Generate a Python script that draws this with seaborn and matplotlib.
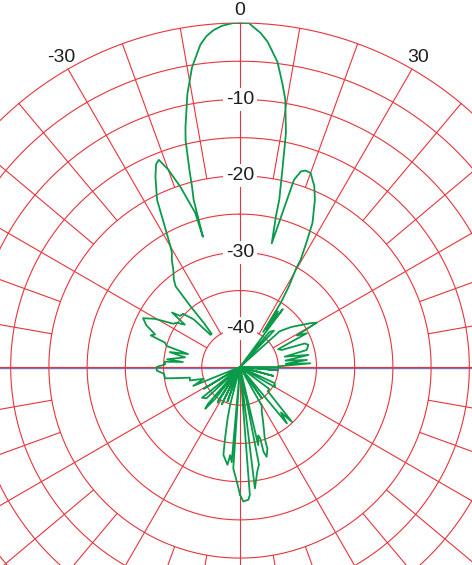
import numpy as np
import matplotlib
matplotlib.use("Agg")
import matplotlib.pyplot as plt
import matplotlib.transforms as mtransforms
import seaborn as sns

# measured pattern, angle in degrees (clockwise from boresight) and level in dB
pattern_deg = [
    -180.0, -178.4, -176.2, -175.6, -175.0, -173.6, -172.7, -169.3, -168.2, -166.5,
    -165.3, -163.5, -160.0, -157.5, -154.0, -151.5, -148.0, -146.9, -145.0, -142.0,
    -140.2, -139.0, -136.0, -133.0, -129.0, -126.0, -121.0, -116.0, -112.0, -108.0,
    -105.0, -102.0, -100.0, -98.6, -95.0, -92.5, -90.0, -88.0, -86.0, -85.0,
    -84.0, -80.0, -78.0, -76.0, -74.0, -72.0, -70.5, -69.0, -66.0, -63.3,
    -60.5, -57.0, -55.0, -52.5, -51.3, -49.5, -47.0, -44.2, -42.5, -40.6,
    -39.4, -39.2, -38.8, -38.6, -37.0, -34.5, -32.5, -30.8, -30.0, -27.9,
    -26.4, -24.0, -22.5, -21.4, -20.0, -18.3, -16.2, -15.9, -15.5, -14.9,
    -14.4, -13.5, -12.8, -10.9, -9.1, -7.0, -5.8, -4.5, -3.0, -1.2,
    0.0, 1.5, 2.1, 3.5, 4.85, 7.0, 8.5, 9.6, 11.1, 12.0,
    13.2, 13.4, 14.4, 15.6, 16.1, 17.3, 18.5, 20.0, 22.3, 24.1,
    26.7, 27.9, 29.5, 29.7, 31.2, 32.4, 33.4, 34.2, 35.0, 36.5,
    38.0, 40.0, 43.0, 46.0, 48.0, 52.0, 55.8, 58.0, 60.0, 61.0,
    63.2, 65.0, 67.8, 70.0, 72.0, 75.7, 77.0, 80.0, 82.0, 84.0,
    86.0, 87.0, 89.0, 90.0, 92.0, 95.0, 100.0, 105.0, 110.0, 115.0,
    120.0, 123.0, 127.0, 131.0, 134.8, 136.6, 138.0, 140.3, 142.0, 145.0,
    148.0, 150.7, 154.0, 157.2, 160.9, 161.5, 163.5, 164.5, 164.2, 165.1,
    166.9, 168.0, 169.0, 170.7, 173.0, 174.6, 175.6, 176.4, 178.6, 180.0,
]
pattern_db = [
    -28.3, -30.0, -31.7, -45.0, -32.5, -33.4, -32.1, -33.3, -35.4, -38.0,
    -39.9, -45.0, -40.2, -45.0, -39.6, -45.0, -39.5, -39.8, -45.0, -39.7,
    -37.9, -38.6, -45.0, -39.0, -38.6, -45.0, -39.5, -45.0, -38.4, -40.0,
    -38.2, -38.3, -36.6, -35.1, -35.0, -34.1, -34.1, -35.2, -35.1, -37.5,
    -35.4, -37.7, -35.6, -38.0, -35.0, -34.7, -32.6, -33.1, -31.6, -30.8,
    -32.2, -34.6, -34.9, -35.9, -33.6, -34.7, -34.8, -36.3, -39.3, -39.3,
    -37.5, -34.7, -32.5, -31.5, -30.6, -29.6, -28.4, -27.6, -26.8, -23.7,
    -20.6, -17.8, -16.3, -15.9, -17.5, -20.2, -24.0, -27.3, -22.3, -20.6,
    -18.4, -14.5, -12.8, -8.6, -5.3, -2.5, -1.5, -0.8, -0.3, 0.0,
    0.0, 0.0, -0.4, -1.2, -2.3, -4.8, -7.5, -9.5, -13.8, -18.1,
    -22.5, -24.7, -28.3, -22.8, -19.5, -18.2, -17.9, -18.0, -19.4, -21.0,
    -23.9, -26.2, -28.9, -30.3, -32.6, -35.0, -39.5, -36.2, -39.0, -35.6,
    -45.0, -39.0, -38.5, -45.0, -38.0, -36.5, -35.2, -34.2, -33.4, -36.5,
    -35.2, -39.5, -39.1, -36.0, -35.6, -36.0, -39.0, -35.9, -39.0, -36.2,
    -39.0, -35.8, -40.0, -39.8, -45.0, -40.0, -45.0, -40.5, -45.0, -40.0,
    -39.7, -45.0, -40.2, -40.2, -37.6, -35.1, -37.0, -35.4, -45.0, -40.0,
    -45.0, -39.2, -38.5, -37.2, -35.1, -33.7, -32.75, -33.5, -35.3, -35.75,
    -34.5, -45.0, -32.0, -31.1, -29.0, -45.0, -28.2, -27.6, -27.4, -28.3,
]

ring_levels = [-40, -35, -30, -25, -20, -15, -10, -5, 0]
radial_labels = [-10, -20, -30, -40]
angle_labels = [-30, 0, 30]
spoke_angles = list(range(0, 360, 10))

grid_red = "#e8343c"
trace_green = "#0a9a4a"
axis_blue = "#7474c4"
text_col = "#1e1e1e"

sns.set_style("white")
plt.rcParams["font.family"] = ["Liberation Sans", "DejaVu Sans"]

fig = plt.figure(figsize=(4.72, 5.65), dpi=100)
ax = fig.add_axes([-0.2203, -0.2584, 1.4576, 1.2177], projection="polar")
ax.set_theta_zero_location("N")
ax.set_theta_direction(-1)
ax.grid(False)
ax.set_xticks([])
ax.set_yticks([])
ax.spines["polar"].set_visible(False)

# rings
full_circle = np.linspace(0, 2 * np.pi, 721)
for lev in ring_levels:
    ax.plot(full_circle, np.full_like(full_circle, lev), color=grid_red, lw=0.8,
            zorder=1, clip_on=False)

# spokes: main axes to centre, 30 deg to -40 ring, the rest to -20 ring
for a in spoke_angles:
    if a % 90 == 0:
        r0 = -45
    elif a % 30 == 0:
        r0 = -40
    else:
        r0 = -20
    t = np.deg2rad(a)
    ax.plot([t, t], [r0, 0], color=grid_red, lw=0.8, zorder=1, clip_on=False)

# blue horizontal axis just under the red one
shift = mtransforms.offset_copy(ax.transData, fig=fig, x=0, y=-1.1, units="dots")
ax.plot(np.deg2rad([-90, -90, 90, 90]), [0, -45, -45, 0], color=axis_blue,
        lw=1.0, zorder=0.9, transform=shift, clip_on=False)

sns.lineplot(x=np.deg2rad(pattern_deg), y=pattern_db, sort=False, estimator=None,
             color=trace_green, lw=1.3, ax=ax, zorder=2)

for lev in radial_labels:
    ax.text(0, lev, str(lev), ha="center", va="center", fontsize=14, color=text_col,
            zorder=5, bbox=dict(boxstyle="square,pad=0.15", fc="white", ec="none"))

for a in angle_labels:
    ax.text(np.deg2rad(a), 1.7, str(a), ha="center", va="center", fontsize=14,
            color=text_col, zorder=5)

ax.set_xlabel("")
ax.set_ylabel("")
ax.set_ylim(-45, 0)

fig.savefig("out.png", dpi=100, facecolor="white")
plt.close(fig)
